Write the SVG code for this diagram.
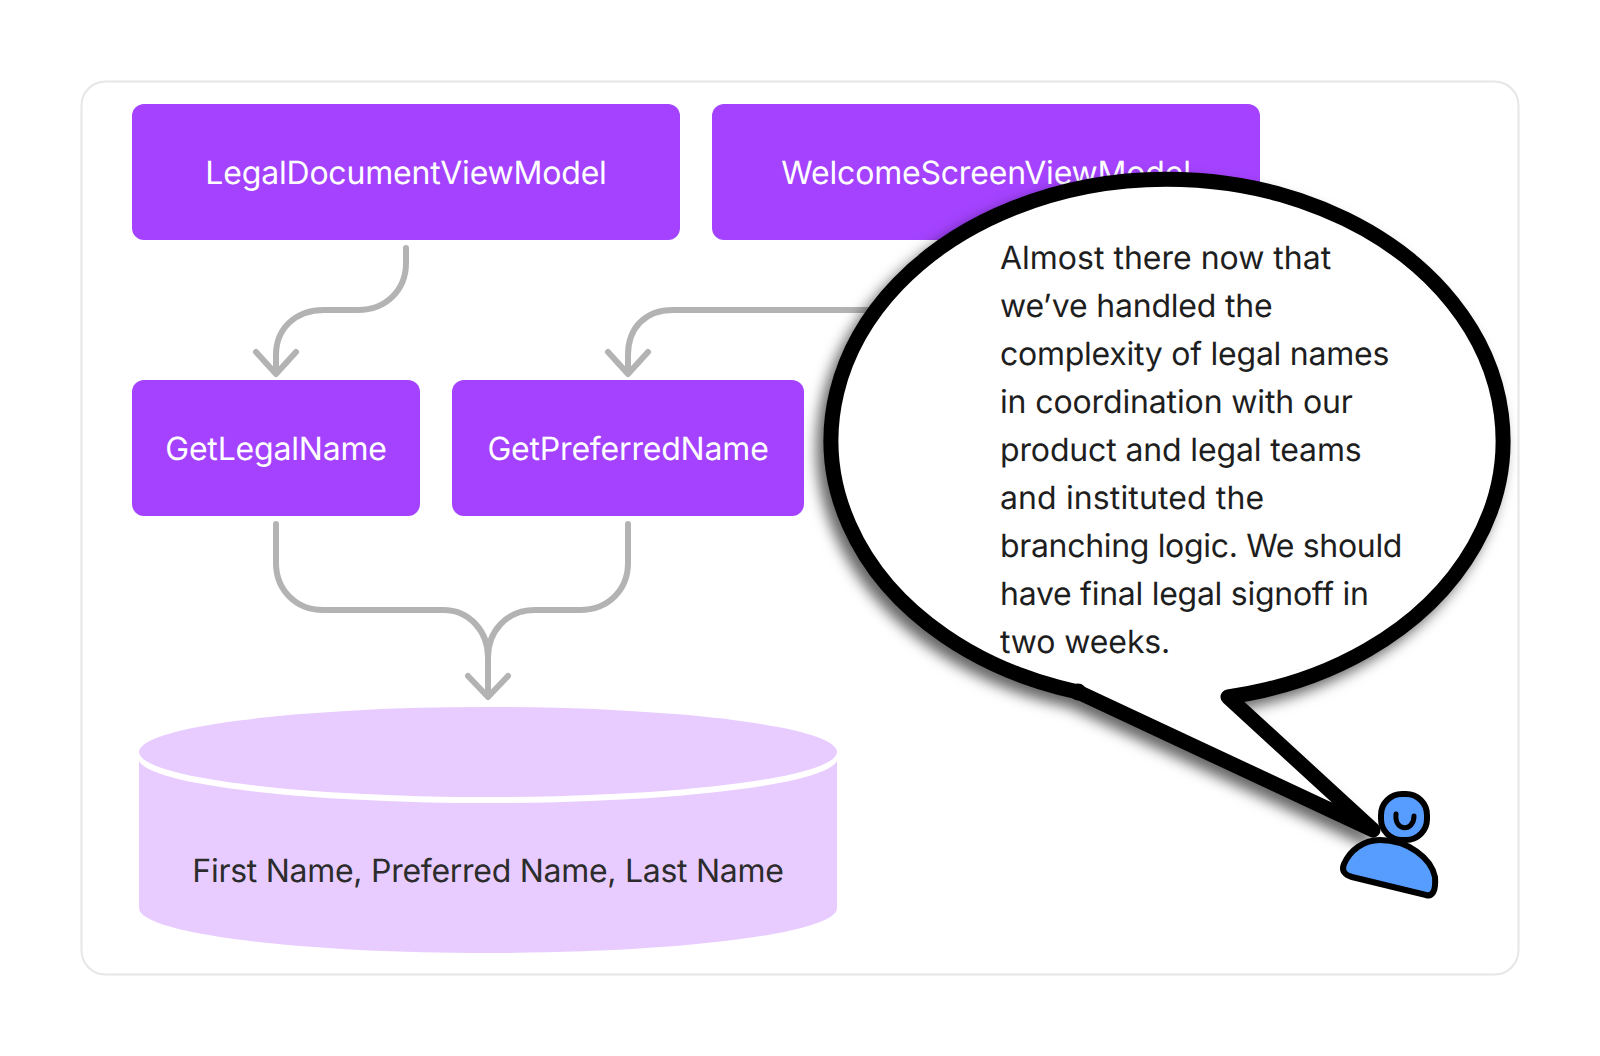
<svg xmlns="http://www.w3.org/2000/svg" width="1600" height="1056" viewBox="0 0 1600 1056">
<style>
text{text-rendering:geometricPrecision}
.b{fill:#a442ff}
.l{font-family:Inter,"Liberation Sans",sans-serif;font-size:32px;fill:#fff;text-anchor:middle;letter-spacing:-.19px}
.c{fill:none;stroke:#b3b3b3;stroke-width:6;stroke-linecap:round;stroke-linejoin:round}
.t{font-family:Inter,"Liberation Sans",sans-serif;font-size:32px;fill:#1e1e1e}
.p{fill:#579dff;stroke:#000;stroke-width:6;stroke-linejoin:round}
</style>
<defs><filter id="s" x="-20%" y="-20%" width="140%" height="140%"><feDropShadow dx="-7" dy="8" stdDeviation="7" flood-color="#000" flood-opacity="0.6"/></filter></defs>
<rect width="1600" height="1056" fill="#fff"/>
<rect x="81.500" y="81.500" width="1437" height="893" rx="24" fill="#fff" stroke="#e6e6e6" stroke-width="2"/>
<g id="legal-doc"><rect class="b" x="132" y="104" width="548" height="136" rx="12"/><text class="l" x="406" y="184">LegalDocumentViewModel</text></g>
<g id="welcome"><rect class="b" x="712" y="104" width="548" height="136" rx="12"/><text class="l" x="986" y="184">WelcomeScreenViewModel</text></g>
<g id="get-legal"><rect class="b" x="132" y="380" width="288" height="136" rx="12"/><text class="l" x="276" y="460">GetLegalName</text></g>
<g id="get-preferred"><rect class="b" x="452" y="380" width="352" height="136" rx="12"/><text class="l" x="628" y="460">GetPreferredName</text></g>
<g id="connectors">
<path class="c" d="M406 248V263C406 290 386 310 358 310H324C296 310 276 328 276 355V372"/>
<path class="c" d="M256 352L276 374L296 352"/>
<path class="c" d="M900 310H673C645 310 628 328 628 355V372"/>
<path class="c" d="M608 352L628 374L648 352"/>
<path class="c" d="M276 524V563C276 590 296 610 323 610H443C470 610 488 632 488 657V695"/>
<path class="c" d="M628 524V563C628 590 608 610 580 610H535C506 610 488 632 488 657"/>
<path class="c" d="M468 676L488 697L508 676"/>
</g>
<g id="database">
<path d="M139 761V908C139 933 295 953 488 953S837 933 837 908V761Z" fill="#e8ccff"/>
<ellipse cx="488" cy="758" rx="350" ry="45" fill="#fff"/>
<ellipse cx="488" cy="752" rx="349" ry="45" fill="#e8ccff"/>
<text x="488" y="882" font-family="Inter,'Liberation Sans',sans-serif" font-size="32" fill="#2c2c2c" text-anchor="middle" letter-spacing="-.28">First Name, Preferred Name, Last Name</text>
</g>
<g id="bubble">
<path d="M1078 692A336 261 0 1 1 1228 697L1373 830Z" fill="#fff" stroke="#000" stroke-width="15" stroke-linejoin="round" filter="url(#s)"/>
<circle cx="1078" cy="692" r="8.500"/>
<text class="t"><tspan x="1000" y="268.500">Almost there now that</tspan><tspan x="1000" y="316.500" letter-spacing="-.19">we’ve handled the</tspan><tspan x="1000" y="364.500" letter-spacing="-.25">complexity of legal names</tspan><tspan x="1000" y="412.500" letter-spacing="-.13">in coordination with our</tspan><tspan x="1000" y="460.500" letter-spacing="-.14">product and legal teams</tspan><tspan x="1000" y="508.500" letter-spacing=".12">and instituted the</tspan><tspan x="1000" y="556.500" letter-spacing="-.33">branching logic. We should</tspan><tspan x="1000" y="604.500" letter-spacing="-.27">have final legal signoff in</tspan><tspan x="1000" y="652.500" letter-spacing="-.11">two weeks.</tspan></text>
</g>
<g id="person">
<rect class="p" x="1381" y="794" width="46" height="46" rx="21"/>
<path d="M1396 814C1394 832 1414 832 1414 816" fill="none" stroke="#000" stroke-width="5" stroke-linecap="round"/>
<path class="p" d="M1344 864C1350 850 1364 840 1380 840C1408 840 1431 858 1435 877C1436 890 1433 897 1426 895L1352 877C1345 875 1341 871 1344 864Z"/>
</g>
</svg>
